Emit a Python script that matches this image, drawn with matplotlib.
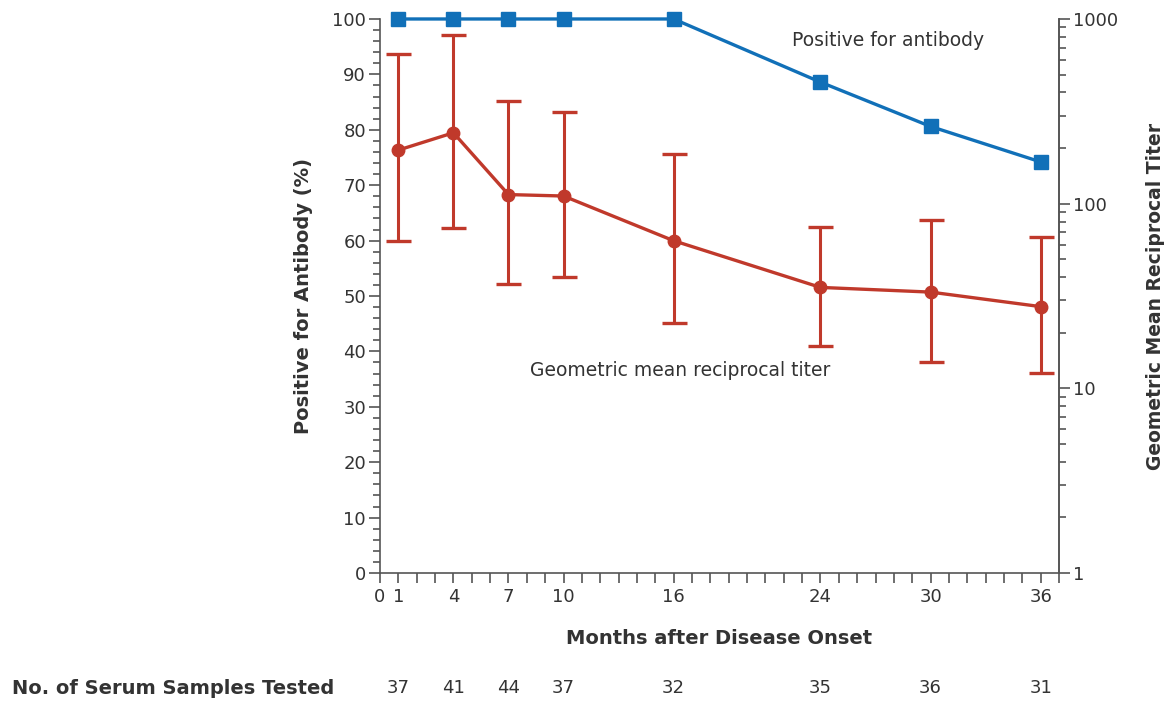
import matplotlib.pyplot as plt
from matplotlib.ticker import FixedLocator, LogLocator, NullFormatter

# data
months = [1, 4, 7, 10, 16, 24, 30, 36]
positive_pct = [100, 100, 100, 100, 100, 88.6, 80.6, 74.2]
gmt = [195, 242, 112, 110, 63, 35.2, 33.2, 27.7]
gmt_upper = [646, 818, 361, 315, 185, 74.5, 81.5, 65.9]
gmt_lower = [62.5, 73.5, 36.7, 40.2, 22.5, 17.0, 13.9, 12.1]
samples = [37, 41, 44, 37, 32, 35, 36, 31]
xtick_labels = [0, 1, 4, 7, 10, 16, 24, 30, 36]

BLUE = '#1170b8'
RED = '#c0392b'
TXT = '#333333'
AX = '#555555'

plt.rcParams['font.family'] = ['DejaVu Sans']

fig = plt.figure(figsize=(11.67, 7.03), dpi=100)
ax = fig.add_axes((0.3256, 0.1849, 0.5819, 0.7881))
ax2 = ax.twinx()

# red series on log axis
err_lo = [g - lo for g, lo in zip(gmt, gmt_lower)]
err_hi = [hi - g for g, hi in zip(gmt, gmt_upper)]
ax2.errorbar(months, gmt, yerr=[err_lo, err_hi], color=RED, lw=2.4,
             marker='o', ms=9, capsize=9, capthick=2.4, elinewidth=2.2,
             clip_on=False, zorder=3)
ax2.set_yscale('log')
ax2.set_ylim(1, 1000)

# blue series on percent axis
ax.plot(months, positive_pct, color=BLUE, lw=2.4, marker='s', ms=10,
        clip_on=False, zorder=4)
ax.set_zorder(ax2.get_zorder() + 1)
ax.patch.set_visible(False)

ax.set_xlim(0, 37)
ax.set_ylim(0, 100)
ax.set_xticks(xtick_labels)
ax.set_xticks(range(0, 38), minor=True)
ax.set_yticks(range(0, 101, 10))
ax.set_yticks(range(0, 101, 2), minor=True)

ax2.yaxis.set_major_locator(FixedLocator([1, 10, 100, 1000]))
ax2.yaxis.set_minor_locator(LogLocator(base=10, subs=range(2, 10)))
ax2.yaxis.set_minor_formatter(NullFormatter())
ax2.set_yticklabels(['1', '10', '100', '1000'])

for a in (ax, ax2):
    a.spines['top'].set_visible(False)
    for s in a.spines.values():
        s.set_color(AX)
        s.set_linewidth(1.2)
    a.tick_params(which='major', length=8, width=1.2, color=AX,
                  labelsize=13, labelcolor=TXT, pad=2)
    a.tick_params(which='minor', length=5, width=1.2, color=AX)
ax.tick_params(axis='x', which='both', length=7)
ax.tick_params(axis='x', pad=4)
ax2.spines['left'].set_visible(False)
ax2.spines['bottom'].set_visible(False)

ax.set_ylabel('Positive for Antibody (%)', fontsize=14, fontweight='bold',
              color=TXT, labelpad=14)
ax2.set_ylabel('Geometric Mean Reciprocal Titer', fontsize=13.5,
               fontweight='bold', color=TXT, labelpad=20)
ax.set_xlabel('Months after Disease Onset', fontsize=14, fontweight='bold',
              color=TXT, labelpad=16)

ax.text(27.7, 96.2, 'Positive for antibody', fontsize=13.5, color=TXT,
        ha='center', va='center')
ax.text(16.35, 36.6, 'Geometric mean reciprocal titer', fontsize=13.5,
        color=TXT, ha='center', va='center')

# sample counts row
row_y = -20.7
fig.text(12 / 1167, 1 - 689 / 703, 'No. of Serum Samples Tested',
         fontsize=14, fontweight='bold', color=TXT, va='center')
for m, n in zip(months, samples):
    ax.text(m, row_y, str(n), fontsize=13, color=TXT, ha='center',
            va='center', clip_on=False)

fig.savefig('out.png', dpi=100)
